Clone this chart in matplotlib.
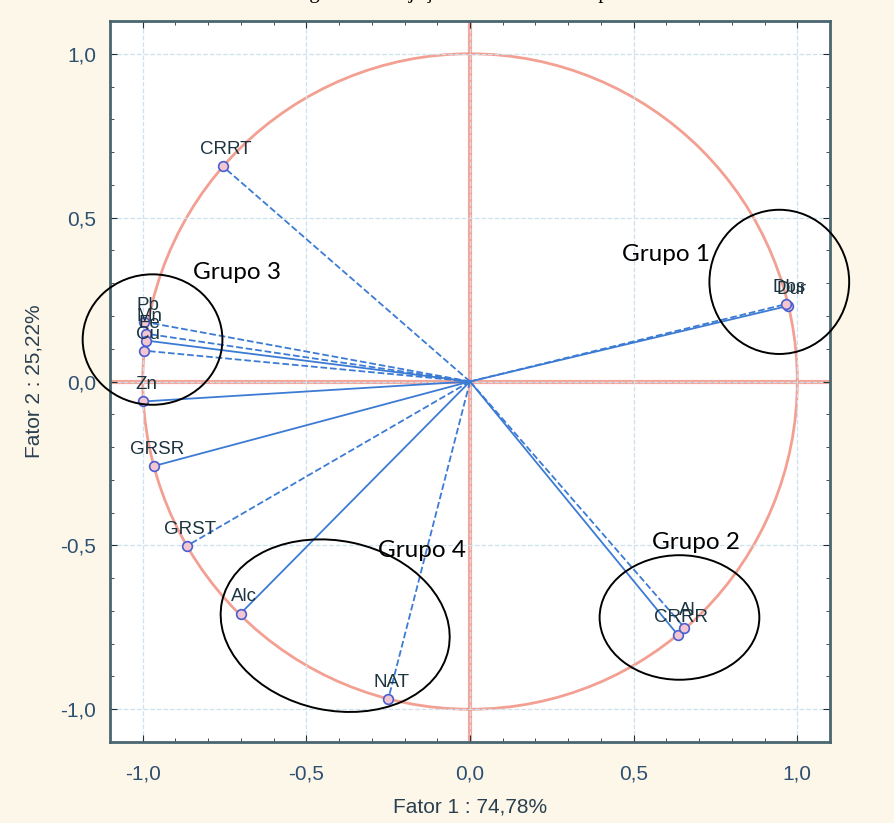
import numpy as np
import matplotlib.pyplot as plt
from matplotlib.patches import Circle, Ellipse
from matplotlib.ticker import MultipleLocator, FuncFormatter

# variable loadings on factor 1 / factor 2
names = ['CRRT', 'Pb', 'Mn', 'Fe', 'Cu', 'Zn', 'GRSR', 'GRST', 'Alc', 'NAT',
         'CRRR', 'Al', 'Dur', 'Dbs']
f1 = [-0.756, -0.995, -0.99, -0.99, -0.995, -1.0, -0.966, -0.866, -0.701, -0.25,
      0.634, 0.655, 0.973, 0.965]
f2 = [0.657, 0.182, 0.146, 0.125, 0.094, -0.061, -0.258, -0.502, -0.708, -0.970,
      -0.772, -0.751, 0.231, 0.236]
styles = ['--', '--', '--', '-', '--', '-', '-', '--', '-', '--',
          '-', '--', '-', '--']

groups = ['Grupo 1', 'Grupo 2', 'Grupo 3', 'Grupo 4']

fig = plt.figure(figsize=(8.95, 8.23), dpi=100, facecolor='#fdf7ea')
ax = fig.add_axes([0.1229, 0.0984, 0.8045, 0.8761])
ax.set_facecolor('white')

red = '#f08878'
blue = '#3c7bd4'

# unit circle and reference axes
ax.add_patch(Circle((0, 0), 1.0, fill=False, ec=red, lw=2, alpha=0.8, zorder=1))
ax.axvline(0, color=red, lw=3, alpha=0.75, zorder=1)
ax.axhline(0, color=red, lw=3, alpha=0.75, zorder=1)

for n, x, y, ls in zip(names, f1, f2, styles):
    ax.plot([0, x], [0, y], ls=ls, color=blue, lw=1.3, zorder=2)
    ax.plot(x, y, 'o', ms=7, mfc='#f3c6d0', mec='#4a5ed0', mew=1.2, zorder=3)
    ax.text(x + 0.01, y + 0.025, n, ha='center', va='bottom', fontsize=13.5,
            family='Liberation Sans', color='#1c3440', zorder=4)

# group ellipses drawn over the plot
ell = [((0.945, 0.304), 0.427, 0.44, 0),
       ((0.64, -0.72), 0.488, 0.38, 0),
       ((-0.97, 0.128), 0.427, 0.398, 0),
       ((-0.412, -0.745), 0.707, 0.517, -12)]
for c, w, h, a in ell:
    ax.add_patch(Ellipse(c, w, h, angle=a, fill=False, ec='black', lw=1.4,
                         clip_on=False, zorder=5))

glab = [(0.600, 0.388), (0.690, -0.492), (-0.713, 0.332), (-0.146, -0.515)]
for g, (x, y) in zip(groups, glab):
    ax.text(x, y, g, ha='center', va='center', fontsize=17.5, family='Lato',
            color='black', zorder=6)

ax.set_xlim(-1.1, 1.1)
ax.set_ylim(-1.1, 1.1)
ax.xaxis.set_major_locator(MultipleLocator(0.5))
ax.yaxis.set_major_locator(MultipleLocator(0.5))
ax.xaxis.set_minor_locator(MultipleLocator(0.1))
ax.yaxis.set_minor_locator(MultipleLocator(0.1))
fmt = FuncFormatter(lambda v, p: ('%.1f' % v).replace('.', ',').replace('-0,0', '0,0'))
ax.xaxis.set_major_formatter(fmt)
ax.yaxis.set_major_formatter(fmt)
ax.tick_params(which='both', direction='in', top=True, right=True,
               color='#203038')
ax.tick_params(which='major', length=5, labelsize=15, labelcolor='#2e5070',
               pad=10)
ax.tick_params(axis='x', which='major', pad=16)
ax.tick_params(which='minor', length=3)
for lbl in ax.get_xticklabels() + ax.get_yticklabels():
    lbl.set_family('Liberation Sans')
ax.grid(True, which='major', ls='--', color='#cfe0ee', lw=0.9, zorder=0)
for s in ax.spines.values():
    s.set_color('#4a6670')
    s.set_linewidth(2)

ax.set_xlabel('Fator 1 : 74,78%', fontsize=15, family='Liberation Sans',
              color='#2a4050', labelpad=10)
ax.set_ylabel('Fator 2 : 25,22%', fontsize=15, family='Liberation Sans',
              color='#2a4050', labelpad=12)

# caption clipped at the top edge of the scan
fig.text(0.56, 1.009, 'Figura 3 - Projeção das variáveis no plano fatorial',
         ha='center', va='center', fontsize=15, family='Liberation Serif')

fig.savefig('out.png', dpi=100, facecolor=fig.get_facecolor())
